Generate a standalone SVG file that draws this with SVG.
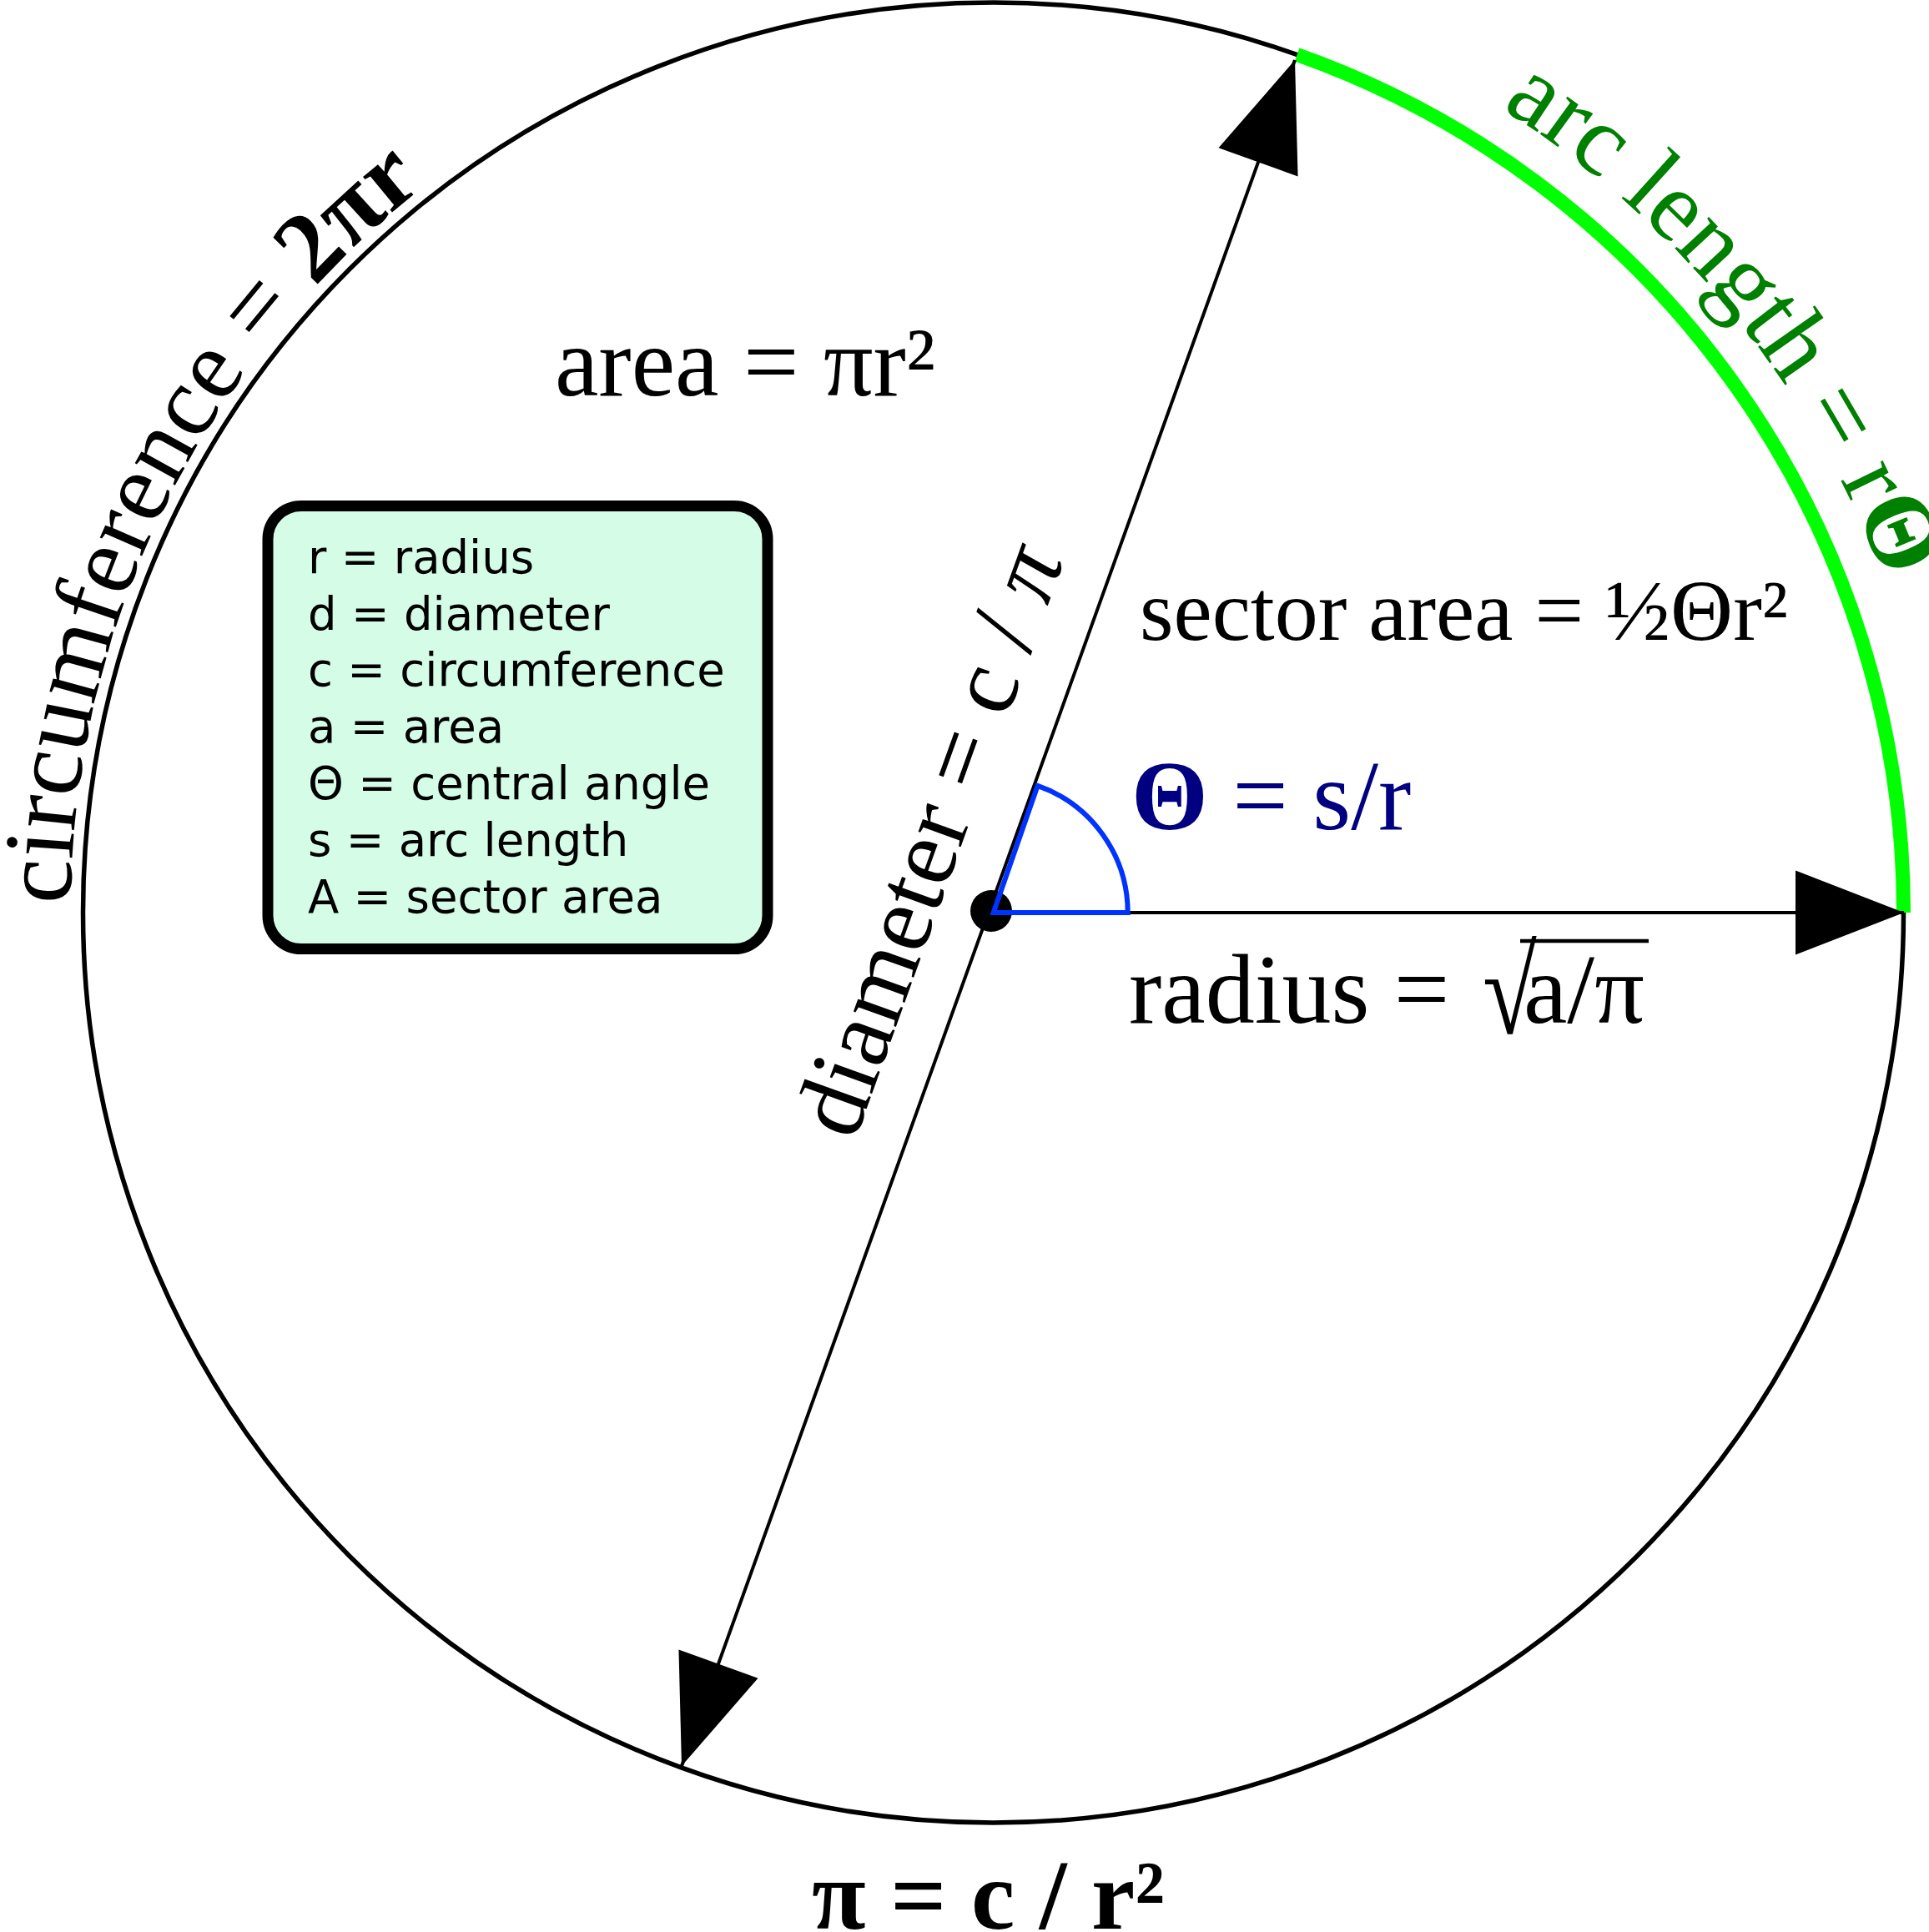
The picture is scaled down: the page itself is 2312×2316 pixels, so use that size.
<svg xmlns="http://www.w3.org/2000/svg" width="2312" height="2316" viewBox="0 0 2312 2316">
<style>
.serif{font-family:"Liberation Serif","Times New Roman",serif;}
.big{font-size:118px;fill:#000;}
.legend{font-family:"DejaVu Sans",sans-serif;font-size:54.5px;fill:#000;}
.ln{stroke:#000;stroke-width:4;fill:none;}
</style>
<defs>
<marker id="ah" viewBox="-135 -55 140 110" refX="0" refY="0" markerWidth="140" markerHeight="110" markerUnits="userSpaceOnUse" orient="auto-start-reverse">
<path d="M0,0 L-130,-50.5 L-130,50.5 Z" fill="#000"/>
</marker>
<path id="circPath" d="M84.5,1094 A1106,1106 0 1 1 2296.5,1094 A1106,1106 0 1 1 84.5,1094"/>
<path id="arcPath" d="M50.5,1094 A1140,1140 0 1 1 2330.5,1094 A1140,1140 0 1 1 50.5,1094"/>
</defs>
<rect width="2312" height="2316" fill="#fff"/>

<g id="circle">
<circle cx="1190.5" cy="1094" r="1091" fill="none" stroke="#000" stroke-width="5.5"/>
<path id="arc-green" d="M1554.7,65.6 A1091,1091 0 0 1 2281.5,1094" fill="none" stroke="#00ff00" stroke-width="17"/>
</g>

<g id="connectors">
<line class="ln" x1="817" y1="2117" x2="1552" y2="72" marker-start="url(#ah)" marker-end="url(#ah)"/>
<line class="ln" x1="1190" y1="1094" x2="2282" y2="1094" marker-end="url(#ah)"/>
</g>

<g id="center">
<circle cx="1188" cy="1092" r="25" fill="#000"/>
<path d="M1190.7,1094 L1351.7,1094 A161,161 0 0 0 1243.6,941.9 Z" fill="none" stroke="#0033ff" stroke-width="6" stroke-linejoin="miter"/>
</g>

<g id="legend">
<rect x="321" y="606.5" width="599" height="531" rx="40" ry="40" fill="#d5fce7" stroke="#000" stroke-width="13"/>
<text class="legend" x="369" y="687">r = radius</text>
<text class="legend" x="369" y="755">d = diameter</text>
<text class="legend" x="369" y="822">c = circumference</text>
<text class="legend" x="369" y="890">a = area</text>
<text class="legend" x="369" y="958">Θ = central angle</text>
<text class="legend" x="369" y="1026">s = arc length</text>
<text class="legend" x="369" y="1094">A = sector area</text>
</g>

<g id="label-circumference">
<text class="serif" font-size="120" fill="#000"><textPath href="#circPath" startOffset="10">circumference = <tspan font-weight="bold">2πr</tspan></textPath></text>
</g>

<g id="label-arc">
<text class="serif" font-size="121" fill="#008000"><textPath href="#arcPath" startOffset="2433">arc length = r<tspan font-weight="bold">Θ</tspan></textPath></text>
</g>

<g id="label-area">
<text class="serif big" x="665" y="474">area = πr²</text>
</g>

<g id="label-sector">
<text class="serif" font-size="104" fill="#000" x="1366" y="767">sector area = ½Θr²</text>
</g>

<g id="label-theta">
<text class="serif" font-size="118" fill="#000080" x="1356" y="994"><tspan font-weight="bold">Θ</tspan> = s/r</text>
</g>

<g id="label-radius">
<text class="serif big" x="1353" y="1226">radius =</text>
<text class="serif big" x="1777" y="1226" transform="translate(0,1173) scale(1,1.25) translate(0,-1173)">√</text>
<text class="serif big" x="1826" y="1226">a/π</text>
<line x1="1822" y1="1128" x2="1976" y2="1128" stroke="#000" stroke-width="4.5"/>
</g>

<g id="label-diameter">
<text class="serif big" transform="translate(1024.2,1369) rotate(-70.2)">diameter = c / <tspan font-style="italic">π</tspan></text>
</g>

<g id="label-pi">
<text class="serif big" font-weight="bold" x="973" y="2312">π = c / r²</text>
</g>
</svg>
